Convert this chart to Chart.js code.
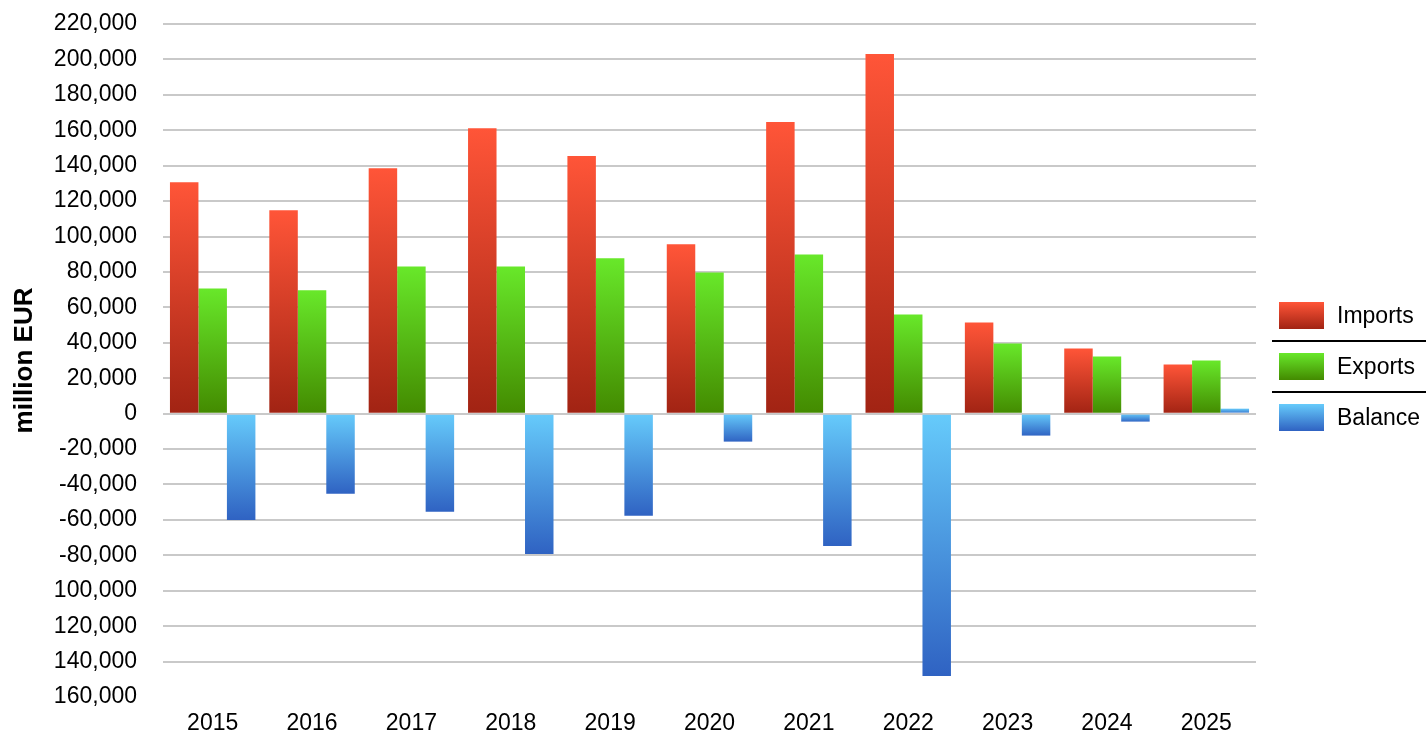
<!DOCTYPE html>
<html>
<head>
<meta charset="utf-8">
<script src="https://cdn.jsdelivr.net/npm/chart.js@4/dist/chart.umd.min.js"></script>
<style>
  html, body { margin: 0; padding: 0; background: #fff; overflow: hidden; }
  #wrap { width: 1426px; height: 738px; }
</style>
</head>
<body>
<div id="wrap"><canvas id="chart"></canvas></div>
<script>
const years = ["2015", "2016", "2017", "2018", "2019", "2020", "2021", "2022", "2023", "2024", "2025"];
const imports = [130600, 114800, 138600, 161200, 145400, 95600, 164600, 203000, 51500, 36800, 27700];
const exportsEur = [70700, 69600, 83100, 83100, 87700, 79700, 89900, 56000, 39600, 32200, 30000];
const balance = [-60000, -45200, -55400, -79200, -57700, -15800, -74700, -148200, -12400, -4500, 2800];

// tick labels exactly as printed on the picture (lowest ones lost their minus sign)
const tickValues = [-160000, -140000, -120000, -100000, -80000, -60000, -40000, -20000, 0,
  20000, 40000, 60000, 80000, 100000, 120000, 140000, 160000, 180000, 200000, 220000];
const tickLabels = ["160,000", "140,000", "120,000", "100,000", "-80,000", "-60,000", "-40,000", "-20,000", "0",
  "20,000", "40,000", "60,000", "80,000", "100,000", "120,000", "140,000", "160,000", "180,000", "200,000", "220,000"];

const FONT = "'Liberation Sans', Arial, Helvetica, sans-serif";

const palette = {
  Imports: ["#ff5538", "#a12313"],
  Exports: ["#68e82a", "#438a00"],
  Balance: ["#66cbfb", "#2f62c2"]
};

// each bar gets its own top-to-bottom gradient, light at the top
function barFill(colors) {
  return (c) => {
    const chart = c.chart;
    if (!chart.chartArea || c.raw === undefined) return colors[0];
    const y = chart.scales.y;
    const p0 = y.getPixelForValue(0);
    const p1 = y.getPixelForValue(c.raw);
    const top = Math.min(p0, p1), bot = Math.max(p0, p1) + 0.5;
    const g = chart.ctx.createLinearGradient(0, top, 0, bot);
    g.addColorStop(0, colors[0]);
    g.addColorStop(1, colors[1]);
    return g;
  };
}

const sideLegend = {
  id: "sideLegend",
  afterDraw(chart) {
    const ctx = chart.ctx;
    const area = chart.chartArea;
    const x0 = area.right;
    const cy = (area.top + area.bottom) / 2 + 6;
    const names = Object.keys(palette);
    const rowH = 51;
    ctx.save();
    names.forEach((name, i) => {
      const yc = cy + (i - 1) * rowH;
      const g = ctx.createLinearGradient(0, yc - 13.5, 0, yc + 13.5);
      g.addColorStop(0, palette[name][0]);
      g.addColorStop(1, palette[name][1]);
      ctx.fillStyle = g;
      ctx.fillRect(x0 + 23, yc - 13.5, 45, 27);
      ctx.fillStyle = "#000";
      ctx.font = "23px " + FONT;
      ctx.textBaseline = "middle";
      ctx.textAlign = "left";
      ctx.fillText(name, x0 + 81, yc + 1);
      if (i < names.length - 1) {
        ctx.strokeStyle = "#000";
        ctx.lineWidth = 2;
        ctx.beginPath();
        ctx.moveTo(x0 + 16, yc + rowH / 2);
        ctx.lineTo(chart.width, yc + rowH / 2);
        ctx.stroke();
      }
    });
    ctx.restore();
  }
};

new Chart(document.getElementById("chart"), {
  type: "bar",
  data: {
    labels: years,
    datasets: [
      { label: "Imports", data: imports, backgroundColor: barFill(palette.Imports) },
      { label: "Exports", data: exportsEur, backgroundColor: barFill(palette.Exports) },
      { label: "Balance", data: balance, backgroundColor: barFill(palette.Balance) }
    ]
  },
  options: {
    responsive: true,
    maintainAspectRatio: false,
    animation: false,
    layout: { padding: { top: 24, right: 170, left: 0, bottom: 0 } },
    datasets: {
      bar: { categoryPercentage: 0.86, barPercentage: 1.0, borderWidth: 0 }
    },
    plugins: {
      legend: { display: false },
      tooltip: { enabled: false }
    },
    scales: {
      x: {
        grid: { display: false, drawTicks: false },
        border: { display: false },
        ticks: { color: "#000", font: { family: FONT, size: 23 }, padding: 13, maxRotation: 0 },
        afterFit: (s) => { s.height = 41; }
      },
      y: {
        min: -160000,
        max: 220000,
        border: { display: false },
        grid: {
          drawTicks: true,
          tickLength: 23,
          tickColor: "rgba(0,0,0,0)",
          lineWidth: 2,
          color: (c) => (c.tick && c.tick.value === -160000 ? "rgba(0,0,0,0)" : "#c9c9c9")
        },
        ticks: {
          stepSize: 20000,
          color: "#000",
          padding: 3,
          font: { family: FONT, size: 23 },
          callback: (v) => {
            const i = tickValues.indexOf(v);
            return i >= 0 ? tickLabels[i] : v;
          }
        },
        title: {
          display: true,
          text: "million EUR",
          color: "#000",
          font: { family: FONT, size: 26, weight: "bold" },
          padding: { top: 9, bottom: 0 }
        },
        afterFit: (s) => { s.width = 163; }
      }
    }
  },
  plugins: [sideLegend]
});
</script>
</body>
</html>
